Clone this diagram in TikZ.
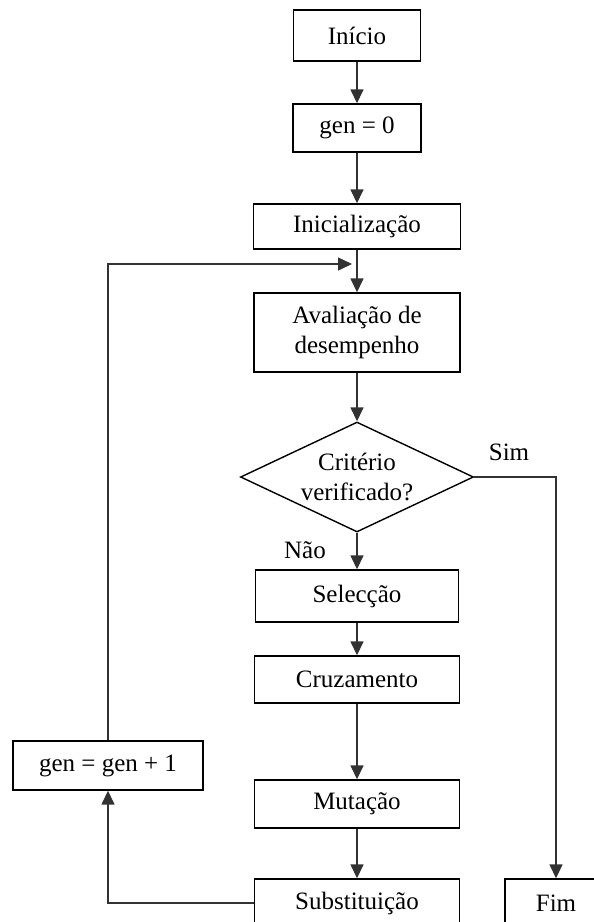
\documentclass[tikz,border=0pt]{standalone}
\usepackage{fontspec}
\setmainfont{Liberation Serif}
\usetikzlibrary{arrows.meta,shapes.geometric}
\definecolor{linegray}{RGB}{50,50,50}
\def\axis{357}
\def\boxw{205pt}

\begin{document}
\begin{tikzpicture}[x=1pt, y=-1pt, line width=1pt,
    box/.style={draw, line width=1.4pt, inner sep=0pt, minimum width=\boxw, minimum height=48pt,
                font=\fontsize{25}{30}\selectfont, align=center},
    decision/.style={box, diamond, aspect=2.1, minimum width=233pt, minimum height=110pt},
    lbl/.style={font=\fontsize{25}{30}\selectfont},
    link/.style={draw=linegray, line width=1.5pt, -{Triangle[length=14pt,width=13pt]}}]

    \clip (0,0) rectangle (594,922);

    \node[box, minimum width=127pt, minimum height=51pt] (inicio) at (\axis, 35.5) {Início};
    \node[box, minimum width=128pt] (genzero) at (\axis, 128) {gen = 0};
    \node[box, minimum width=207pt, minimum height=45pt] (inicializacao) at (\axis, 226.5) {Inicialização};
    \node[box, minimum width=206pt, minimum height=79pt] (avaliacao) at (\axis, 332.5) {Avaliação de\\desempenho};
    \node[decision] (criterio) at (\axis, 477) {Critério\\verificado?};
    \node[box, minimum width=203pt, minimum height=52pt] (seleccao) at (\axis, 596) {Selecção};
    \node[box, minimum height=47pt] (cruzamento) at (\axis, 679.5) {Cruzamento};
    \node[box] (mutacao) at (\axis, 804) {Mutação};
    \node[box] (substituicao) at (\axis, 903) {Substituição};
    \node[box, minimum width=102pt] (fim) at (556, 903) {Fim};
    \node[box, minimum width=190pt, minimum height=49pt] (gengen) at (108, 765.5) {gen = gen + 1};

    \node[lbl] (sim) at (509, 452) {Sim};
    \node[lbl] (nao) at (305, 550) {Não};

    \coordinate (loopin) at (352, 264);

    \draw[link] (inicio) -- (genzero);
    \draw[link] (genzero) -- (inicializacao);
    \draw[link] (inicializacao) -- (avaliacao);
    \draw[link] (avaliacao) -- (criterio);
    \draw[link] (criterio) -- (seleccao);
    \draw[link] (seleccao) -- (cruzamento);
    \draw[link] (cruzamento) -- (mutacao);
    \draw[link] (mutacao) -- (substituicao);

    \draw[link] (criterio.east) -| (fim.north);
    \draw[link] (substituicao.west) -| (gengen.south);
    \draw[link] (gengen.north) |- (loopin);

\end{tikzpicture}
\end{document}
